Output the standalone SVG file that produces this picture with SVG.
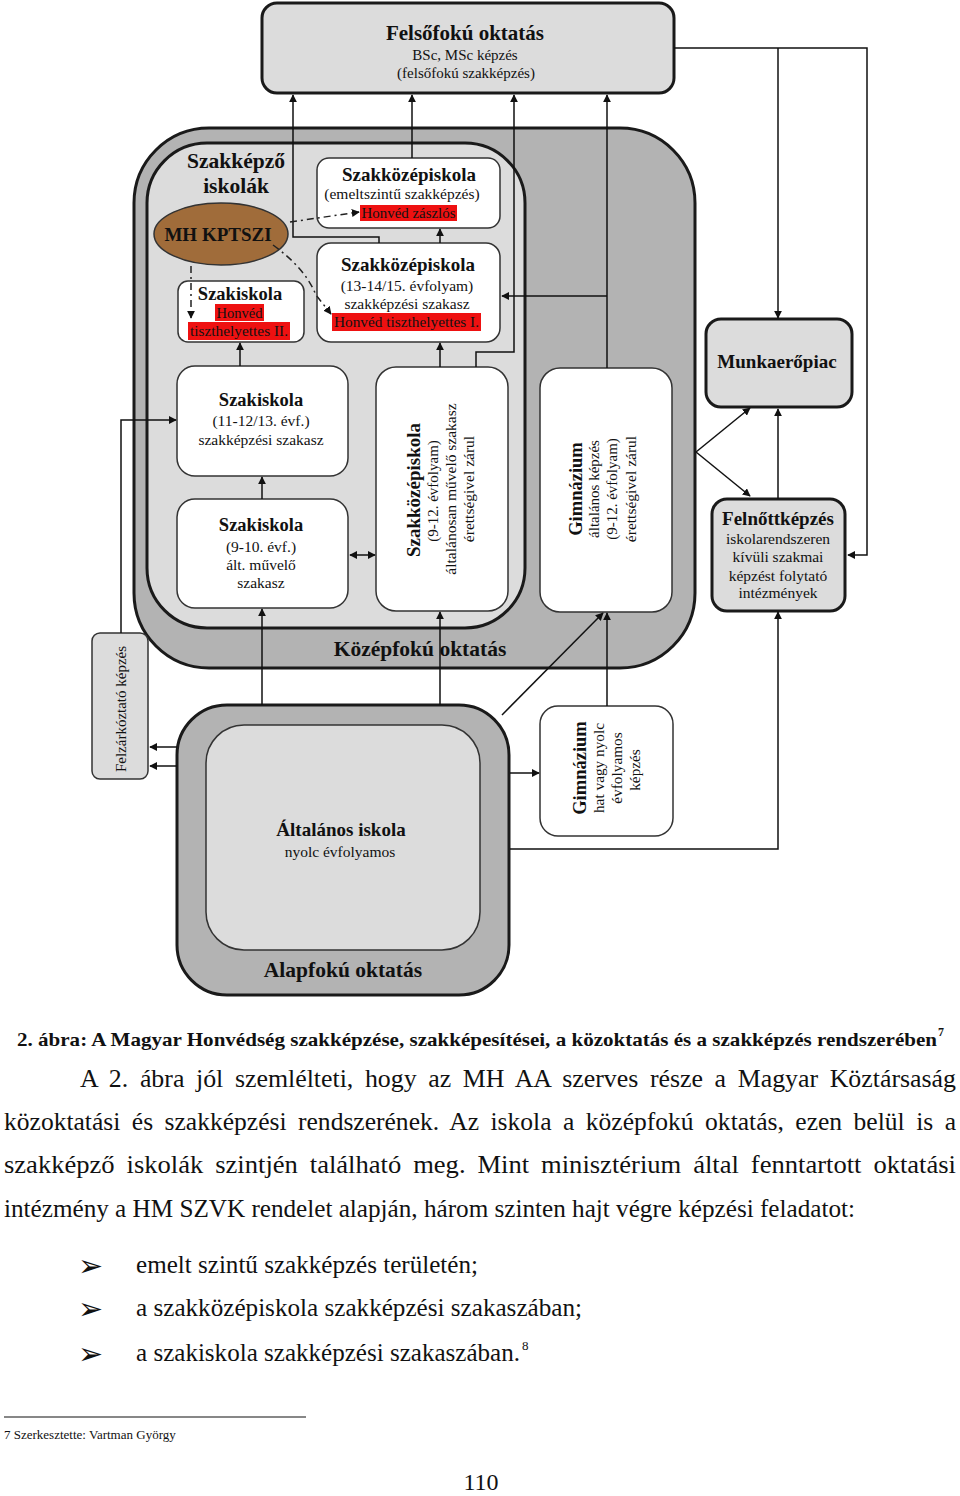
<svg xmlns="http://www.w3.org/2000/svg" width="960" height="1496" viewBox="0 0 960 1496">
<style>
text{font-family:"Liberation Serif","Times New Roman",serif;fill:#111}
.b{font-weight:bold}
.c{text-anchor:middle}
.thick{stroke:#1a1a1a;stroke-width:3}
.thin{stroke:#333;stroke-width:1.5}
.ln{fill:none;stroke:#111;stroke-width:1.5}
.dash{fill:none;stroke:#222;stroke-width:1.5;stroke-dasharray:7 4 2 4}
.body{font-size:25px;word-spacing:5px}
.bul{font-family:"DejaVu Sans",sans-serif;font-size:30px}
</style>
<defs>
<marker id="a" viewBox="0 0 10 10" refX="9" refY="5" markerWidth="8" markerHeight="8" orient="auto-start-reverse" markerUnits="userSpaceOnUse"><path d="M0 0L10 5L0 10z" fill="#111"/></marker>
</defs>
<rect width="960" height="1496" fill="#fff"/>

<g id="felsofoku">
<rect x="262" y="3" width="412" height="90" rx="15" fill="#dcdcdc" class="thick"/>
<text x="465" y="40" class="b c" font-size="21">Felsőfokú oktatás</text>
<text x="465" y="60" class="c" font-size="15">BSc, MSc képzés</text>
<text x="466" y="78" class="c" font-size="15">(felsőfokú szakképzés)</text>
</g>

<g id="kozepfoku">
<rect x="134" y="128" width="561" height="540" rx="75" fill="#b3b3b3" class="thick"/>
<text x="420" y="656" class="b c" font-size="21.5">Középfokú oktatás</text>
</g>

<g id="szakkepzo">
<rect x="147" y="143" width="378" height="485" rx="60" fill="#dcdcdc" class="thick"/>
<text x="236" y="168" class="b c" font-size="21.5">Szakképző</text>
<text x="236" y="193" class="b c" font-size="21.5">iskolák</text>
</g>

<g id="alapfoku">
<rect x="177" y="705" width="332" height="290" rx="50" fill="#b3b3b3" class="thick"/>
<rect x="206" y="725" width="274" height="225" rx="38" fill="#dcdcdc" class="thin"/>
<text x="341" y="836" class="b c" font-size="19">Általános iskola</text>
<text x="340" y="857" class="c" font-size="15.5">nyolc évfolyamos</text>
<text x="343" y="977" class="b c" font-size="21.5">Alapfokú oktatás</text>
</g>

<g id="szakkozep-emelt">
<rect x="317" y="158" width="183" height="70" rx="12" fill="#fff" class="thin"/>
<text x="409" y="181" class="b c" font-size="19">Szakközépiskola</text>
<text x="402" y="199" class="c" font-size="15.5">(emeltszintű szakképzés)</text>
<rect x="360" y="205" width="97" height="16" fill="#ee1111"/>
<text x="408.5" y="218" class="c" font-size="14.5" textLength="94" lengthAdjust="spacingAndGlyphs">Honvéd zászlós</text>
</g>

<g id="szakkozep-13">
<rect x="317" y="243" width="183" height="99" rx="14" fill="#fff" class="thin"/>
<text x="408" y="271" class="b c" font-size="19">Szakközépiskola</text>
<text x="407" y="291" class="c" font-size="15.5">(13-14/15. évfolyam)</text>
<text x="407" y="309" class="c" font-size="15.5">szakképzési szakasz</text>
<rect x="332" y="313" width="149" height="18" fill="#ee1111"/>
<text x="406.5" y="327" class="c" font-size="15" textLength="145" lengthAdjust="spacingAndGlyphs">Honvéd tiszthelyettes I.</text>
</g>

<g id="mh-kptszi">
<ellipse cx="221" cy="234" rx="67" ry="31" fill="#a06c3a" stroke="#333" stroke-width="1.5"/>
<text x="218" y="241" class="b c" font-size="19">MH KPTSZI</text>
</g>

<g id="szakiskola-honved">
<rect x="178" y="281" width="126" height="61" rx="10" fill="#fff" class="thin"/>
<text x="240" y="300" class="b c" font-size="18.5">Szakiskola</text>
<rect x="215" y="304" width="49" height="17" fill="#ee1111"/>
<text x="239.5" y="318" class="c" font-size="15" textLength="46" lengthAdjust="spacingAndGlyphs">Honvéd</text>
<rect x="188" y="322" width="102" height="18" fill="#ee1111"/>
<text x="239" y="336" class="c" font-size="15" textLength="98" lengthAdjust="spacingAndGlyphs">tiszthelyettes II.</text>
</g>

<g id="szakiskola-11">
<rect x="177" y="366" width="171" height="110" rx="18" fill="#fff" class="thin"/>
<text x="261" y="406" class="b c" font-size="18.5">Szakiskola</text>
<text x="261" y="426" class="c" font-size="15.5">(11-12/13. évf.)</text>
<text x="261" y="445" class="c" font-size="15.5">szakképzési szakasz</text>
</g>

<g id="szakiskola-9">
<rect x="177" y="499" width="171" height="109" rx="18" fill="#fff" class="thin"/>
<text x="261" y="531" class="b c" font-size="18.5">Szakiskola</text>
<text x="261" y="552" class="c" font-size="15.5">(9-10. évf.)</text>
<text x="261" y="570" class="c" font-size="15.5">ált. művelő</text>
<text x="261" y="588" class="c" font-size="15.5">szakasz</text>
</g>

<g id="szakkozep-vert">
<rect x="376" y="367" width="132" height="244" rx="20" fill="#fff" class="thin"/>
<text transform="translate(420 490) rotate(-90)" class="b c" font-size="19">Szakközépiskola</text>
<text transform="translate(438 491) rotate(-90)" class="c" font-size="15">(9-12. évfolyam)</text>
<text transform="translate(456 489) rotate(-90)" class="c" font-size="15.5">általánosan művelő szakasz</text>
<text transform="translate(474 489) rotate(-90)" class="c" font-size="15.5">érettségivel zárul</text>
</g>

<g id="gimnazium">
<rect x="540" y="368" width="132" height="244" rx="20" fill="#fff" class="thin"/>
<text transform="translate(582 489) rotate(-90)" class="b c" font-size="18.5">Gimnázium</text>
<text transform="translate(599 489) rotate(-90)" class="c" font-size="15">általános képzés</text>
<text transform="translate(617 489) rotate(-90)" class="c" font-size="15">(9-12. évfolyam)</text>
<text transform="translate(636 489) rotate(-90)" class="c" font-size="15.5">érettségivel zárul</text>
</g>

<g id="munkaeropiac">
<rect x="706" y="319" width="146" height="88" rx="15" fill="#dcdcdc" class="thick"/>
<text x="777" y="368" class="b c" font-size="19">Munkaerőpiac</text>
</g>

<g id="felnottkepzes">
<rect x="712" y="499" width="133" height="112" rx="15" fill="#dcdcdc" class="thick"/>
<text x="778" y="525" class="b c" font-size="19">Felnőttképzés</text>
<text x="778" y="544" class="c" font-size="15.5">iskolarendszeren</text>
<text x="778" y="562" class="c" font-size="15.5">kívüli szakmai</text>
<text x="778" y="581" class="c" font-size="15.5">képzést folytató</text>
<text x="778" y="598" class="c" font-size="15.5">intézmények</text>
</g>

<g id="felzarkozato">
<rect x="92" y="633" width="56" height="146" rx="8" fill="#dcdcdc" class="thin"/>
<text transform="translate(126 709) rotate(-90)" class="c" font-size="15">Felzárkóztató képzés</text>
</g>

<g id="gimnazium-68">
<rect x="540" y="706" width="133" height="130" rx="18" fill="#fff" class="thin"/>
<text transform="translate(586 768) rotate(-90)" class="b c" font-size="18.5">Gimnázium</text>
<text transform="translate(604 768) rotate(-90)" class="c" font-size="15.3">hat vagy nyolc</text>
<text transform="translate(622 768) rotate(-90)" class="c" font-size="15.3">évfolyamos</text>
<text transform="translate(640 770) rotate(-90)" class="c" font-size="15.3">képzés</text>
</g>

<g id="connectors">
<path class="ln" d="M379 243V237H293V95" marker-end="url(#a)"/>
<path class="ln" d="M412 158V95" marker-end="url(#a)"/>
<path class="ln" d="M476 367V352H514V95" marker-end="url(#a)"/>
<path class="ln" d="M607 368V95" marker-end="url(#a)"/>
<path class="ln" d="M607 296H502" marker-end="url(#a)"/>
<path class="ln" d="M674 48H867V555H848" marker-end="url(#a)"/>
<path class="ln" d="M778 48V318" marker-end="url(#a)"/>
<path class="ln" d="M696 452L750 408" marker-end="url(#a)"/>
<path class="ln" d="M696 452L750 496" marker-end="url(#a)"/>
<path class="ln" d="M778 499V409" marker-end="url(#a)"/>
<path class="ln" d="M510 849H778V612" marker-end="url(#a)"/>
<path class="ln" d="M510 773H539" marker-end="url(#a)"/>
<path class="ln" d="M177 747H150" marker-end="url(#a)"/>
<path class="ln" d="M177 766H150" marker-end="url(#a)"/>
<path class="ln" d="M121 633V420H176" marker-end="url(#a)"/>
<path class="ln" d="M262 705V609" marker-end="url(#a)"/>
<path class="ln" d="M440 705V612" marker-end="url(#a)"/>
<path class="ln" d="M502 715L603 613" marker-end="url(#a)"/>
<path class="ln" d="M607 706V613" marker-end="url(#a)"/>
<path class="ln" d="M262 499V477" marker-end="url(#a)"/>
<path class="ln" d="M240 366V343" marker-end="url(#a)"/>
<path class="ln" d="M440 367V343" marker-end="url(#a)"/>
<path class="ln" d="M440 243V229" marker-end="url(#a)"/>
<path class="ln" d="M350 555H375" marker-start="url(#a)" marker-end="url(#a)"/>
<path class="dash" d="M290 222L359 212" marker-end="url(#a)"/>
<path class="dash" d="M273 245Q305 268 316 295L331 314" marker-end="url(#a)"/>
<path class="dash" d="M191 266V318" marker-end="url(#a)"/>
</g>

<g id="caption">
<text x="17" y="1046" class="b" font-size="19" textLength="920" lengthAdjust="spacingAndGlyphs">2. ábra: A Magyar Honvédség szakképzése, szakképesítései, a közoktatás és a szakképzés rendszerében</text>
<text x="938" y="1036" class="b" font-size="12">7</text>
</g>

<g id="body">
<text x="80" y="1087" class="body" textLength="876" lengthAdjust="spacingAndGlyphs">A 2. ábra jól szemlélteti, hogy az MH AA szerves része a Magyar Köztársaság</text>
<text x="4" y="1130" class="body" textLength="952" lengthAdjust="spacingAndGlyphs">közoktatási és szakképzési rendszerének. Az iskola a középfokú oktatás, ezen belül is a</text>
<text x="4" y="1173" class="body" textLength="952" lengthAdjust="spacingAndGlyphs">szakképző iskolák szintjén található meg. Mint minisztérium által fenntartott oktatási</text>
<text x="4" y="1217" font-size="25" textLength="851" lengthAdjust="spacingAndGlyphs">intézmény a HM SZVK rendelet alapján, három szinten hajt végre képzési feladatot:</text>
<text x="78" y="1276" class="bul">➢</text>
<text x="136" y="1273" font-size="25" textLength="342" lengthAdjust="spacingAndGlyphs">emelt szintű szakképzés területén;</text>
<text x="78" y="1319" class="bul">➢</text>
<text x="136" y="1316" font-size="25" textLength="446" lengthAdjust="spacingAndGlyphs">a szakközépiskola szakképzési szakaszában;</text>
<text x="78" y="1364" class="bul">➢</text>
<text x="136" y="1361" font-size="25" textLength="384" lengthAdjust="spacingAndGlyphs">a szakiskola szakképzési szakaszában.</text>
<text x="522" y="1350" font-size="13">8</text>
</g>

<g id="footnote">
<line x1="4" y1="1417" x2="306" y2="1417" stroke="#111" stroke-width="1.2"/>
<text x="4" y="1439" font-size="13">7 Szerkesztette: Vartman György</text>
<text x="481" y="1490" class="c" font-size="24">110</text>
</g>
</svg>
